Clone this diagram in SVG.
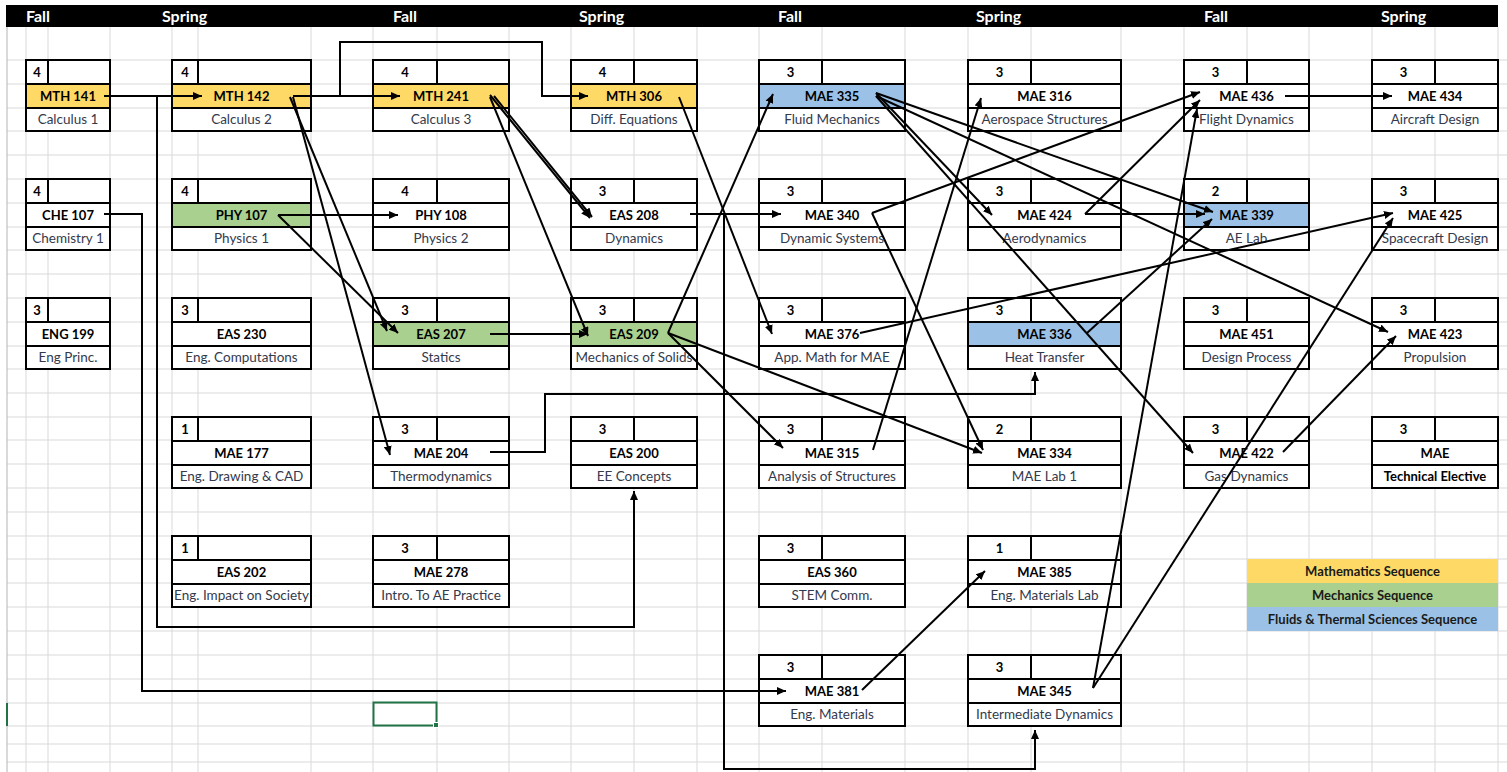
<svg xmlns="http://www.w3.org/2000/svg" width="1507" height="772" viewBox="0 0 1507 772">
<defs>
<marker id="arrow" markerUnits="userSpaceOnUse" markerWidth="10" markerHeight="8" refX="9" refY="4" orient="auto"><path d="M0,0 L9,4 L0,8 z" fill="#000"/></marker>
<style>
.grid line{stroke:#d9d9d9;stroke-width:1}
.edge{stroke:#b4b4b4;stroke-width:1}
.hdr{fill:#fff;font-family:Lato,"Liberation Sans",sans-serif;font-weight:bold;font-size:16px}
.bg{fill:#fff}
.frame{fill:none;stroke:#000;stroke-width:2}
.sep{fill:none;stroke:#000;stroke-width:2}
.math{fill:#ffd966}
.mech{fill:#a9d08e}
.flu{fill:#9bc2e6}
.cr,.cd{font-family:Lato,"Liberation Sans",sans-serif;font-weight:bold;font-size:13px;fill:#000;text-anchor:middle}
.nm{font-family:Lato,"Liberation Sans",sans-serif;font-size:13.5px;fill:#333a4d;text-anchor:middle}
.nmb{font-family:Lato,"Liberation Sans",sans-serif;font-weight:bold;font-size:13px;fill:#000;text-anchor:middle}
.lg{font-family:Lato,"Liberation Sans",sans-serif;font-weight:bold;font-size:13px;fill:#1a1a1a;text-anchor:middle}
.conn path{fill:none;stroke:#000;stroke-width:2;marker-end:url(#arrow)}
.conn path.plain{marker-end:none}
</style>
</defs>

<rect width="1507" height="772" fill="#fff"/>

<!-- worksheet cell grid -->
<g class="grid">
<line x1="26" y1="27" x2="26" y2="772"/><line x1="48" y1="27" x2="48" y2="772"/><line x1="110" y1="27" x2="110" y2="772"/>
<line x1="172" y1="27" x2="172" y2="772"/><line x1="198" y1="27" x2="198" y2="772"/><line x1="311" y1="27" x2="311" y2="772"/>
<line x1="373" y1="27" x2="373" y2="772"/><line x1="437" y1="27" x2="437" y2="772"/><line x1="509" y1="27" x2="509" y2="772"/>
<line x1="571" y1="27" x2="571" y2="772"/><line x1="634" y1="27" x2="634" y2="772"/><line x1="697" y1="27" x2="697" y2="772"/>
<line x1="759" y1="27" x2="759" y2="772"/><line x1="822" y1="27" x2="822" y2="772"/><line x1="905" y1="27" x2="905" y2="772"/>
<line x1="968" y1="27" x2="968" y2="772"/><line x1="1031" y1="27" x2="1031" y2="772"/><line x1="1121" y1="27" x2="1121" y2="772"/>
<line x1="1184" y1="27" x2="1184" y2="772"/><line x1="1247" y1="27" x2="1247" y2="772"/><line x1="1309" y1="27" x2="1309" y2="772"/>
<line x1="1372" y1="27" x2="1372" y2="772"/><line x1="1435" y1="27" x2="1435" y2="772"/><line x1="1498" y1="27" x2="1498" y2="772"/>
<line x1="7" y1="60" x2="1507" y2="60"/><line x1="7" y1="84" x2="1507" y2="84"/><line x1="7" y1="108" x2="1507" y2="108"/><line x1="7" y1="131" x2="1507" y2="131"/>
<line x1="7" y1="155" x2="1507" y2="155"/><line x1="7" y1="179" x2="1507" y2="179"/><line x1="7" y1="203" x2="1507" y2="203"/><line x1="7" y1="227" x2="1507" y2="227"/>
<line x1="7" y1="250" x2="1507" y2="250"/><line x1="7" y1="274" x2="1507" y2="274"/><line x1="7" y1="298" x2="1507" y2="298"/><line x1="7" y1="322" x2="1507" y2="322"/>
<line x1="7" y1="346" x2="1507" y2="346"/><line x1="7" y1="369" x2="1507" y2="369"/><line x1="7" y1="393" x2="1507" y2="393"/><line x1="7" y1="417" x2="1507" y2="417"/>
<line x1="7" y1="440" x2="1507" y2="440"/><line x1="7" y1="464" x2="1507" y2="464"/><line x1="7" y1="488" x2="1507" y2="488"/><line x1="7" y1="512" x2="1507" y2="512"/>
<line x1="7" y1="536" x2="1507" y2="536"/><line x1="7" y1="559" x2="1507" y2="559"/><line x1="7" y1="583" x2="1507" y2="583"/><line x1="7" y1="607" x2="1507" y2="607"/>
<line x1="7" y1="631" x2="1507" y2="631"/><line x1="7" y1="655" x2="1507" y2="655"/><line x1="7" y1="679" x2="1507" y2="679"/><line x1="7" y1="703" x2="1507" y2="703"/>
<line x1="7" y1="726" x2="1507" y2="726"/><line x1="7" y1="744" x2="1507" y2="744"/><line x1="7" y1="762" x2="1507" y2="762"/>
</g>
<line class="edge" x1="7" y1="27" x2="7" y2="772"/>

<!-- semester header band -->
<g id="header">
<rect x="6" y="5" width="1492" height="22" fill="#000"/>
<text class="hdr" x="26" y="22">Fall</text>
<text class="hdr" x="162" y="22">Spring</text>
<text class="hdr" x="393" y="22">Fall</text>
<text class="hdr" x="579" y="22">Spring</text>
<text class="hdr" x="778" y="22">Fall</text>
<text class="hdr" x="976" y="22">Spring</text>
<text class="hdr" x="1204" y="22">Fall</text>
<text class="hdr" x="1381" y="22">Spring</text>
</g>

<!-- course boxes: credits / course code / course title -->
<g id="mth141" transform="translate(26,60)"><rect class="bg" width="84" height="71"/><rect class="math" y="24" width="84" height="24"/><path class="sep" d="M0,24H84M0,48H84M22,0V24"/><rect class="frame" width="84" height="71"/><text class="cr" x="11" y="17">4</text><text class="cd" x="42" y="41">MTH 141</text><text class="nm" x="42" y="64">Calculus 1</text></g>
<g id="mth142" transform="translate(172,60)"><rect class="bg" width="139" height="71"/><rect class="math" y="24" width="139" height="24"/><path class="sep" d="M0,24H139M0,48H139M26,0V24"/><rect class="frame" width="139" height="71"/><text class="cr" x="13" y="17">4</text><text class="cd" x="69.5" y="41">MTH 142</text><text class="nm" x="69.5" y="64">Calculus 2</text></g>
<g id="mth241" transform="translate(373,60)"><rect class="bg" width="136" height="71"/><rect class="math" y="24" width="136" height="24"/><path class="sep" d="M0,24H136M0,48H136M64,0V24"/><rect class="frame" width="136" height="71"/><text class="cr" x="32" y="17">4</text><text class="cd" x="68" y="41">MTH 241</text><text class="nm" x="68" y="64">Calculus 3</text></g>
<g id="mth306" transform="translate(571,60)"><rect class="bg" width="126" height="71"/><rect class="math" y="24" width="126" height="24"/><path class="sep" d="M0,24H126M0,48H126M63,0V24"/><rect class="frame" width="126" height="71"/><text class="cr" x="31.5" y="17">4</text><text class="cd" x="63" y="41">MTH 306</text><text class="nm" x="63" y="64">Diff. Equations</text></g>
<g id="mae335" transform="translate(759,60)"><rect class="bg" width="146" height="71"/><rect class="flu" y="24" width="146" height="24"/><path class="sep" d="M0,24H146M0,48H146M63,0V24"/><rect class="frame" width="146" height="71"/><text class="cr" x="31.5" y="17">3</text><text class="cd" x="73" y="41">MAE 335</text><text class="nm" x="73" y="64">Fluid Mechanics</text></g>
<g id="mae316" transform="translate(968,60)"><rect class="bg" width="153" height="71"/><path class="sep" d="M0,24H153M0,48H153M63,0V24"/><rect class="frame" width="153" height="71"/><text class="cr" x="31.5" y="17">3</text><text class="cd" x="76.5" y="41">MAE 316</text><text class="nm" x="76.5" y="64">Aerospace Structures</text></g>
<g id="mae436" transform="translate(1184,60)"><rect class="bg" width="125" height="71"/><path class="sep" d="M0,24H125M0,48H125M63,0V24"/><rect class="frame" width="125" height="71"/><text class="cr" x="31.5" y="17">3</text><text class="cd" x="62.5" y="41">MAE 436</text><text class="nm" x="62.5" y="64">Flight Dynamics</text></g>
<g id="mae434" transform="translate(1372,60)"><rect class="bg" width="126" height="71"/><path class="sep" d="M0,24H126M0,48H126M63,0V24"/><rect class="frame" width="126" height="71"/><text class="cr" x="31.5" y="17">3</text><text class="cd" x="63" y="41">MAE 434</text><text class="nm" x="63" y="64">Aircraft Design</text></g>

<g id="che107" transform="translate(26,179)"><rect class="bg" width="84" height="71"/><path class="sep" d="M0,24H84M0,48H84M22,0V24"/><rect class="frame" width="84" height="71"/><text class="cr" x="11" y="17">4</text><text class="cd" x="42" y="41">CHE 107</text><text class="nm" x="42" y="64">Chemistry 1</text></g>
<g id="phy107" transform="translate(172,179)"><rect class="bg" width="139" height="71"/><rect class="mech" y="24" width="139" height="24"/><path class="sep" d="M0,24H139M0,48H139M26,0V24"/><rect class="frame" width="139" height="71"/><text class="cr" x="13" y="17">4</text><text class="cd" x="69.5" y="41">PHY 107</text><text class="nm" x="69.5" y="64">Physics 1</text></g>
<g id="phy108" transform="translate(373,179)"><rect class="bg" width="136" height="71"/><path class="sep" d="M0,24H136M0,48H136M64,0V24"/><rect class="frame" width="136" height="71"/><text class="cr" x="32" y="17">4</text><text class="cd" x="68" y="41">PHY 108</text><text class="nm" x="68" y="64">Physics 2</text></g>
<g id="eas208" transform="translate(571,179)"><rect class="bg" width="126" height="71"/><path class="sep" d="M0,24H126M0,48H126M63,0V24"/><rect class="frame" width="126" height="71"/><text class="cr" x="31.5" y="17">3</text><text class="cd" x="63" y="41">EAS 208</text><text class="nm" x="63" y="64">Dynamics</text></g>
<g id="mae340" transform="translate(759,179)"><rect class="bg" width="146" height="71"/><path class="sep" d="M0,24H146M0,48H146M63,0V24"/><rect class="frame" width="146" height="71"/><text class="cr" x="31.5" y="17">3</text><text class="cd" x="73" y="41">MAE 340</text><text class="nm" x="73" y="64">Dynamic Systems</text></g>
<g id="mae424" transform="translate(968,179)"><rect class="bg" width="153" height="71"/><path class="sep" d="M0,24H153M0,48H153M63,0V24"/><rect class="frame" width="153" height="71"/><text class="cr" x="31.5" y="17">3</text><text class="cd" x="76.5" y="41">MAE 424</text><text class="nm" x="76.5" y="64">Aerodynamics</text></g>
<g id="mae339" transform="translate(1184,179)"><rect class="bg" width="125" height="71"/><rect class="flu" y="24" width="125" height="24"/><path class="sep" d="M0,24H125M0,48H125M63,0V24"/><rect class="frame" width="125" height="71"/><text class="cr" x="31.5" y="17">2</text><text class="cd" x="62.5" y="41">MAE 339</text><text class="nm" x="62.5" y="64">AE Lab</text></g>
<g id="mae425" transform="translate(1372,179)"><rect class="bg" width="126" height="71"/><path class="sep" d="M0,24H126M0,48H126M63,0V24"/><rect class="frame" width="126" height="71"/><text class="cr" x="31.5" y="17">3</text><text class="cd" x="63" y="41">MAE 425</text><text class="nm" x="63" y="64">Spacecraft Design</text></g>

<g id="eng199" transform="translate(26,298)"><rect class="bg" width="84" height="71"/><path class="sep" d="M0,24H84M0,48H84M22,0V24"/><rect class="frame" width="84" height="71"/><text class="cr" x="11" y="17">3</text><text class="cd" x="42" y="41">ENG 199</text><text class="nm" x="42" y="64">Eng Princ.</text></g>
<g id="eas230" transform="translate(172,298)"><rect class="bg" width="139" height="71"/><path class="sep" d="M0,24H139M0,48H139M26,0V24"/><rect class="frame" width="139" height="71"/><text class="cr" x="13" y="17">3</text><text class="cd" x="69.5" y="41">EAS 230</text><text class="nm" x="69.5" y="64">Eng. Computations</text></g>
<g id="eas207" transform="translate(373,298)"><rect class="bg" width="136" height="71"/><rect class="mech" y="24" width="136" height="24"/><path class="sep" d="M0,24H136M0,48H136M64,0V24"/><rect class="frame" width="136" height="71"/><text class="cr" x="32" y="17">3</text><text class="cd" x="68" y="41">EAS 207</text><text class="nm" x="68" y="64">Statics</text></g>
<g id="eas209" transform="translate(571,298)"><rect class="bg" width="126" height="71"/><rect class="mech" y="24" width="126" height="24"/><path class="sep" d="M0,24H126M0,48H126M63,0V24"/><rect class="frame" width="126" height="71"/><text class="cr" x="31.5" y="17">3</text><text class="cd" x="63" y="41">EAS 209</text><text class="nm" x="63" y="64">Mechanics of Solids</text></g>
<g id="mae376" transform="translate(759,298)"><rect class="bg" width="146" height="71"/><path class="sep" d="M0,24H146M0,48H146M63,0V24"/><rect class="frame" width="146" height="71"/><text class="cr" x="31.5" y="17">3</text><text class="cd" x="73" y="41">MAE 376</text><text class="nm" x="73" y="64">App. Math for MAE</text></g>
<g id="mae336" transform="translate(968,298)"><rect class="bg" width="153" height="71"/><rect class="flu" y="24" width="153" height="24"/><path class="sep" d="M0,24H153M0,48H153M63,0V24"/><rect class="frame" width="153" height="71"/><text class="cr" x="31.5" y="17">3</text><text class="cd" x="76.5" y="41">MAE 336</text><text class="nm" x="76.5" y="64">Heat Transfer</text></g>
<g id="mae451" transform="translate(1184,298)"><rect class="bg" width="125" height="71"/><path class="sep" d="M0,24H125M0,48H125M63,0V24"/><rect class="frame" width="125" height="71"/><text class="cr" x="31.5" y="17">3</text><text class="cd" x="62.5" y="41">MAE 451</text><text class="nm" x="62.5" y="64">Design Process</text></g>
<g id="mae423" transform="translate(1372,298)"><rect class="bg" width="126" height="71"/><path class="sep" d="M0,24H126M0,48H126M63,0V24"/><rect class="frame" width="126" height="71"/><text class="cr" x="31.5" y="17">3</text><text class="cd" x="63" y="41">MAE 423</text><text class="nm" x="63" y="64">Propulsion</text></g>

<g id="mae177" transform="translate(172,417)"><rect class="bg" width="139" height="71"/><path class="sep" d="M0,24H139M0,48H139M26,0V24"/><rect class="frame" width="139" height="71"/><text class="cr" x="13" y="17">1</text><text class="cd" x="69.5" y="41">MAE 177</text><text class="nm" x="69.5" y="64">Eng. Drawing &amp; CAD</text></g>
<g id="mae204" transform="translate(373,417)"><rect class="bg" width="136" height="71"/><path class="sep" d="M0,24H136M0,48H136M64,0V24"/><rect class="frame" width="136" height="71"/><text class="cr" x="32" y="17">3</text><text class="cd" x="68" y="41">MAE 204</text><text class="nm" x="68" y="64">Thermodynamics</text></g>
<g id="eas200" transform="translate(571,417)"><rect class="bg" width="126" height="71"/><path class="sep" d="M0,24H126M0,48H126M63,0V24"/><rect class="frame" width="126" height="71"/><text class="cr" x="31.5" y="17">3</text><text class="cd" x="63" y="41">EAS 200</text><text class="nm" x="63" y="64">EE Concepts</text></g>
<g id="mae315" transform="translate(759,417)"><rect class="bg" width="146" height="71"/><path class="sep" d="M0,24H146M0,48H146M63,0V24"/><rect class="frame" width="146" height="71"/><text class="cr" x="31.5" y="17">3</text><text class="cd" x="73" y="41">MAE 315</text><text class="nm" x="73" y="64">Analysis of Structures</text></g>
<g id="mae334" transform="translate(968,417)"><rect class="bg" width="153" height="71"/><path class="sep" d="M0,24H153M0,48H153M63,0V24"/><rect class="frame" width="153" height="71"/><text class="cr" x="31.5" y="17">2</text><text class="cd" x="76.5" y="41">MAE 334</text><text class="nm" x="76.5" y="64">MAE Lab 1</text></g>
<g id="mae422" transform="translate(1184,417)"><rect class="bg" width="125" height="71"/><path class="sep" d="M0,24H125M0,48H125M63,0V24"/><rect class="frame" width="125" height="71"/><text class="cr" x="31.5" y="17">3</text><text class="cd" x="62.5" y="41">MAE 422</text><text class="nm" x="62.5" y="64">Gas Dynamics</text></g>
<g id="mae-elective" transform="translate(1372,417)"><rect class="bg" width="126" height="71"/><path class="sep" d="M0,24H126M0,48H126M63,0V24"/><rect class="frame" width="126" height="71"/><text class="cr" x="31.5" y="17">3</text><text class="cd" x="63" y="41">MAE</text><text class="nmb" x="63" y="64">Technical Elective</text></g>

<g id="eas202" transform="translate(172,536)"><rect class="bg" width="139" height="71"/><path class="sep" d="M0,24H139M0,48H139M26,0V24"/><rect class="frame" width="139" height="71"/><text class="cr" x="13" y="17">1</text><text class="cd" x="69.5" y="41">EAS 202</text><text class="nm" x="69.5" y="64">Eng. Impact on Society</text></g>
<g id="mae278" transform="translate(373,536)"><rect class="bg" width="136" height="71"/><path class="sep" d="M0,24H136M0,48H136M64,0V24"/><rect class="frame" width="136" height="71"/><text class="cr" x="32" y="17">3</text><text class="cd" x="68" y="41">MAE 278</text><text class="nm" x="68" y="64">Intro. To AE Practice</text></g>
<g id="eas360" transform="translate(759,536)"><rect class="bg" width="146" height="71"/><path class="sep" d="M0,24H146M0,48H146M63,0V24"/><rect class="frame" width="146" height="71"/><text class="cr" x="31.5" y="17">3</text><text class="cd" x="73" y="41">EAS 360</text><text class="nm" x="73" y="64">STEM Comm.</text></g>
<g id="mae385" transform="translate(968,536)"><rect class="bg" width="153" height="71"/><path class="sep" d="M0,24H153M0,48H153M63,0V24"/><rect class="frame" width="153" height="71"/><text class="cr" x="31.5" y="17">1</text><text class="cd" x="76.5" y="41">MAE 385</text><text class="nm" x="76.5" y="64">Eng. Materials Lab</text></g>

<g id="mae381" transform="translate(759,655)"><rect class="bg" width="146" height="71"/><path class="sep" d="M0,24H146M0,48H146M63,0V24"/><rect class="frame" width="146" height="71"/><text class="cr" x="31.5" y="17">3</text><text class="cd" x="73" y="41">MAE 381</text><text class="nm" x="73" y="64">Eng. Materials</text></g>
<g id="mae345" transform="translate(968,655)"><rect class="bg" width="153" height="71"/><path class="sep" d="M0,24H153M0,48H153M63,0V24"/><rect class="frame" width="153" height="71"/><text class="cr" x="31.5" y="17">3</text><text class="cd" x="76.5" y="41">MAE 345</text><text class="nm" x="76.5" y="64">Intermediate Dynamics</text></g>

<!-- sequence legend -->
<g id="legend">
<rect x="1247" y="559" width="251" height="24" fill="#ffd966"/>
<rect x="1247" y="583" width="251" height="24" fill="#a9d08e"/>
<rect x="1247" y="607" width="251" height="24" fill="#9bc2e6"/>
<text class="lg" x="1372.5" y="576">Mathematics Sequence</text>
<text class="lg" x="1372.5" y="600">Mechanics Sequence</text>
<text class="lg" x="1372.5" y="624">Fluids &amp; Thermal Sciences Sequence</text>
</g>

<!-- active cell cursor -->
<g id="cursor">
<rect x="373.5" y="702.5" width="63" height="23" fill="none" stroke="#217346" stroke-width="2"/>
<rect x="433.5" y="722.5" width="5" height="5" fill="#217346" stroke="#fff" stroke-width="1"/>
<line x1="7" y1="703" x2="7" y2="726" stroke="#217346" stroke-width="2"/>
</g>

<!-- prerequisite connectors -->
<g id="connectors" class="conn">
<path d="M104,96 H202"/>
<path d="M157,96 V627 H634 V491"/>
<path d="M293,96 H400"/>
<path d="M340,96 V42 H542 V96 H588"/>
<path d="M290,97 L387,331"/>
<path d="M293,97 L390,455"/>
<path d="M490,95 L590,218"/>
<path d="M494,96 L592,217"/>
<path d="M490,97 L588,336"/>
<path d="M679,97 L772,334"/>
<path d="M104,214 H142 V691 H786"/>
<path d="M278,215 H398"/>
<path d="M278,215 L398,333"/>
<path d="M490,334 H588"/>
<path d="M690,214 H781"/>
<path d="M724,214 V769 H1035 V730"/>
<path d="M668,333 L773,94"/>
<path d="M668,333 L783,448"/>
<path d="M668,333 L982,453"/>
<path d="M490,452 H545 V394 H1035 V372"/>
<path d="M876,93 L992,215"/>
<path d="M876,96 L1193,453"/>
<path d="M876,93 L1213,212"/>
<path d="M876,96 L1388,332"/>
<path d="M872,213 L1200,92"/>
<path d="M872,213 L983,450"/>
<path d="M860,333 L1393,213"/>
<path d="M873,450 L981,98"/>
<path d="M1085,214 H1205"/>
<path d="M1085,214 L1200,100"/>
<path d="M1087,333 L1212,219"/>
<path d="M1093,688 L1197,109"/>
<path d="M1093,688 L1393,218"/>
<path d="M862,690 L985,571"/>
<path d="M1283,452 L1396,336"/>
<path d="M1285,96 H1392"/>
</g>
</svg>
